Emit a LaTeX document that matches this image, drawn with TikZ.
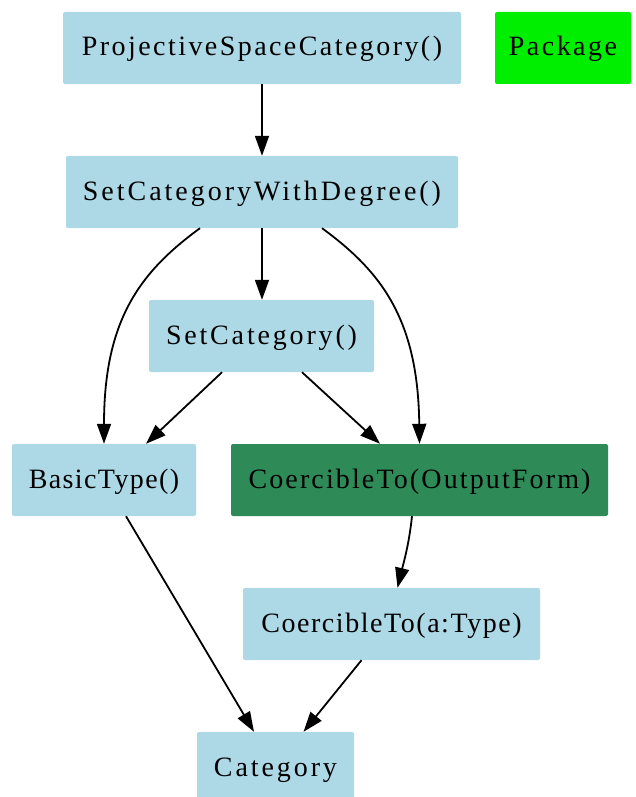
\documentclass[tikz,border=0pt]{standalone}
\usepackage{fontspec}
\setmainfont{Liberation Serif}
\usepackage{tikz}
\usetikzlibrary{arrows.meta}
\definecolor{lightblue}{RGB}{173,216,230}
\definecolor{seagreen}{RGB}{46,139,87}
\definecolor{pkggreen}{RGB}{0,238,0}
\tikzset{
    catbox/.style={fill=lightblue, rounded corners=2pt, inner sep=0pt, minimum height=72pt, text height=22pt, text depth=6pt, text=black},
    domainbox/.style={catbox, fill=seagreen},
    pkgbox/.style={catbox, fill=pkggreen},
    track/.style={font={\fontsize{28}{32}\selectfont\addfontfeature{LetterSpace=#1}}},
    edge/.style={-{Triangle[length=20pt, width=14pt]}, line width=1.8pt, draw=black}
}
\begin{document}
\begin{tikzpicture}[x=1pt,y=-1pt]
\useasboundingbox (0,0) rectangle (635,797);
\node[catbox, minimum width=398pt, track=8.7] (psc) at (262,48) {ProjectiveSpaceCategory()};
\node[pkgbox, minimum width=136pt, track=8.8] (pkg) at (563,48) {Package};
\node[catbox, minimum width=392pt, track=10.6] (scwd) at (262,192) {SetCategoryWithDegree()};
\node[catbox, minimum width=225pt, track=10.1] (setcat) at (261.5,336) {SetCategory()};
\node[catbox, minimum width=184pt, track=5] (basic) at (104,480) {BasicType()};
\node[domainbox, minimum width=377pt, track=7.6] (coerof) at (419.5,480) {CoercibleTo(OutputForm)};
\node[catbox, minimum width=297pt, track=5.5] (coerat) at (391.5,624) {CoercibleTo(a:Type)};
\node[catbox, minimum width=157pt, track=10.4] (cat) at (275.5,768) {Category};
% edges
\draw[edge] (psc) -- (scwd);
\draw[edge] (scwd) -- (setcat.north -| scwd.south);
\draw[edge] ([xshift=-62pt]scwd.south) .. controls (140,272) and (104,320) .. (basic.north);
\draw[edge] ([xshift=60pt]scwd.south) .. controls (382,272) and (418,320) .. (coerof.north);
\draw[edge] ([xshift=-39.5pt]setcat.south) -- ([xshift=42pt]basic.north);
\draw[edge] ([xshift=40.5pt]setcat.south) -- ([xshift=-39.5pt]coerof.north);
\draw[edge] ([xshift=-7.5pt]coerof.south) .. controls (409,545) and (403,565) .. ([xshift=6pt]coerat.north);
\draw[edge] ([xshift=22pt]basic.south) -- ([xshift=-21.5pt]cat.north);
\draw[edge] ([xshift=-30pt]coerat.south) -- ([xshift=28pt]cat.north);
\end{tikzpicture}
\end{document}
